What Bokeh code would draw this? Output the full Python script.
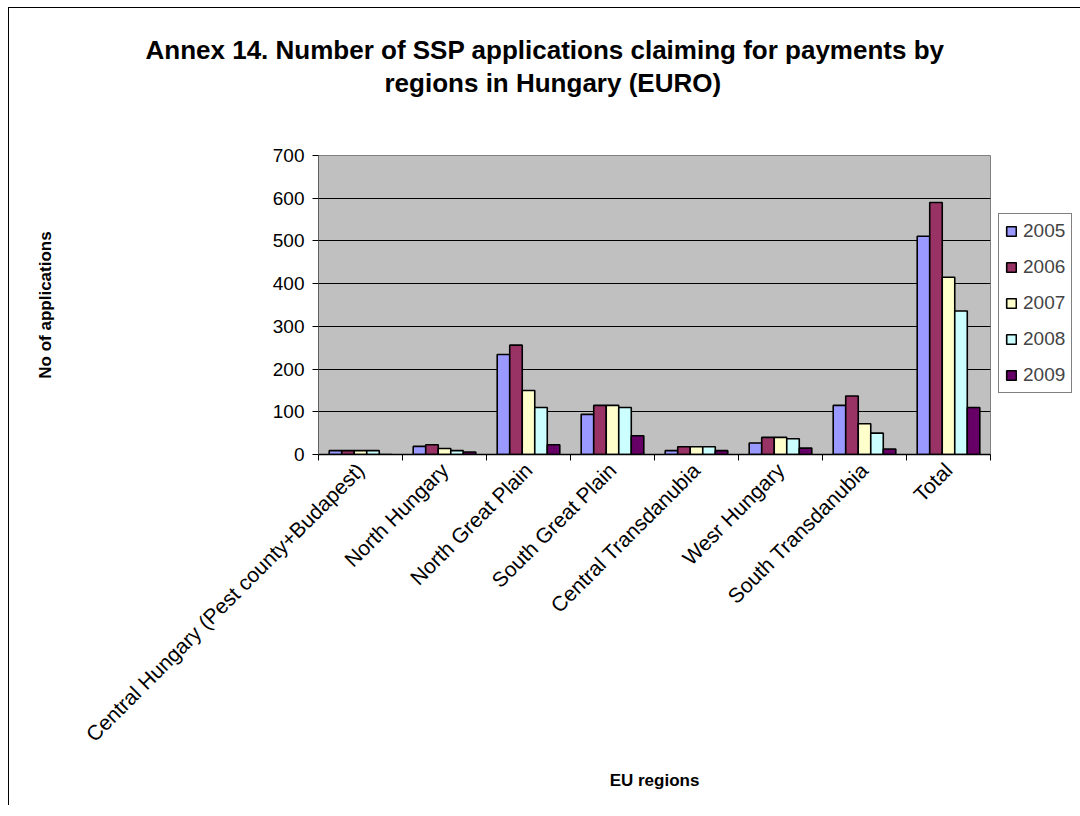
import math
from bokeh.plotting import figure
from bokeh.layouts import column
from bokeh.models import (ColumnDataSource, Range1d, FixedTicker, Legend, LegendItem, Title)
from bokeh.embed import file_html
from bokeh.resources import INLINE

regions = ["Central Hungary (Pest county+Budapest)", "North Hungary", "North Great Plain",
           "South Great Plain", "Central Transdanubia", "Wesr Hungary",
           "South Transdanubia", "Total"]
years = ["2005", "2006", "2007", "2008", "2009"]
v2005 = [9, 19, 234, 94, 9, 27, 115, 511]
v2006 = [9, 23, 256, 115, 18, 40, 137, 590]
v2007 = [9, 14, 150, 115, 18, 40, 72, 415]
v2008 = [9, 9, 110, 110, 18, 37, 50, 336]
v2009 = [0, 6, 23, 44, 9, 15, 13, 110]
series = [v2005, v2006, v2007, v2008, v2009]
colors = ["#9999FF", "#993366", "#FFFFCC", "#CCFFFF", "#660066"]
y_ticks = [0, 100, 200, 300, 400, 500, 600, 700]
title_lines = ["Annex 14. Number of SSP applications claiming for payments by",
               "regions in Hungary (EURO)"]

FONT = "Liberation Sans"
TOTAL_W = 1070

# ---- title strip ----
t = figure(width=TOTAL_W, height=120, output_backend="svg", toolbar_location=None,
           x_axis_type=None, y_axis_type=None, x_range=Range1d(0, 1), y_range=Range1d(0, 1),
           min_border_left=12, min_border_right=0, min_border_top=91, min_border_bottom=0)
t.outline_line_color = None
t.grid.grid_line_color = None
t.background_fill_color = "white"
t.border_fill_color = "white"
# first added sits closest to the frame; offsets centre each line near x=550
title_offsets = [-173, 66]
for txt, off in reversed(list(zip(title_lines, title_offsets))):
    t.add_layout(Title(text=txt, align="left", offset=off, vertical_align="middle", standoff=1,
                       text_font=FONT, text_font_size="26px", text_font_style="bold",
                       text_color="black"), "above")

# ---- main chart ----
p = figure(frame_width=672, frame_height=299, output_backend="svg", toolbar_location=None,
           x_range=Range1d(0, len(regions)), y_range=Range1d(0, 700),
           min_border_left=309, min_border_top=27, min_border_right=0, min_border_bottom=351)
p.background_fill_color = "#C0C0C0"
p.border_fill_color = "white"
p.outline_line_color = "#808080"

bar_w = 0.149
items = []
for j, (yr, vals, col) in enumerate(zip(years, series, colors)):
    xs = [i + 0.5 + (j - 2) * bar_w for i in range(len(regions))]
    src = ColumnDataSource(dict(x=xs, top=vals))
    r = p.vbar(x="x", top="top", width=bar_w, bottom=0, source=src,
               fill_color=col, line_color="black", line_width=1.6)
    items.append(LegendItem(label=yr, renderers=[r]))

p.xaxis.ticker = FixedTicker(ticks=[i + 0.5 for i in range(len(regions))],
                             minor_ticks=list(range(len(regions) + 1)))
p.xaxis.major_label_overrides = {i + 0.5: name for i, name in enumerate(regions)}
p.xaxis.major_label_orientation = math.pi / 4
p.xaxis.major_tick_line_color = None
p.xaxis.minor_tick_line_color = "black"
p.xaxis.minor_tick_out = 6
p.xaxis.minor_tick_in = 0
p.xaxis.major_label_standoff = 6
p.xaxis.axis_line_color = "black"
p.xaxis.axis_line_width = 1.5
p.xaxis.axis_label = "EU regions"
p.xaxis.axis_label_standoff = 14

p.yaxis.ticker = FixedTicker(ticks=y_ticks)
p.yaxis.major_tick_out = 6
p.yaxis.major_tick_in = 0
p.yaxis.minor_tick_line_color = None
p.yaxis.axis_line_color = "#606060"
p.yaxis.major_label_standoff = 8
p.yaxis.axis_label = "No of applications"
p.yaxis.axis_label_standoff = 215

for ax in (p.xaxis, p.yaxis):
    ax.major_label_text_font = FONT
    ax.major_label_text_color = "black"
    ax.axis_label_text_font = FONT
    ax.axis_label_text_font_size = "17px"
    ax.axis_label_text_font_style = "bold"
    ax.axis_label_text_color = "black"
p.xaxis.major_label_text_font_size = "21px"
p.yaxis.major_label_text_font_size = "19px"

p.xgrid.grid_line_color = None
p.ygrid.ticker = FixedTicker(ticks=y_ticks)
p.ygrid.grid_line_color = "black"
p.ygrid.grid_line_alpha = 1.0
p.ygrid.grid_line_width = 1

legend = Legend(items=items, location=(8, 61), border_line_color="black",
                border_line_width=1, background_fill_color="white", background_fill_alpha=1,
                label_text_font=FONT, label_text_font_size="19px",
                glyph_width=12, glyph_height=12, label_height=20, spacing=14,
                padding=6, margin=0, label_standoff=6)
p.add_layout(legend, "right")

layout = column(t, p, spacing=0,
                styles={"margin-left": "8px", "margin-top": "7px",
                        "border-left": "1px solid black", "border-top": "1px solid black"})

open("out.html", "w").write(file_html(layout, INLINE))
